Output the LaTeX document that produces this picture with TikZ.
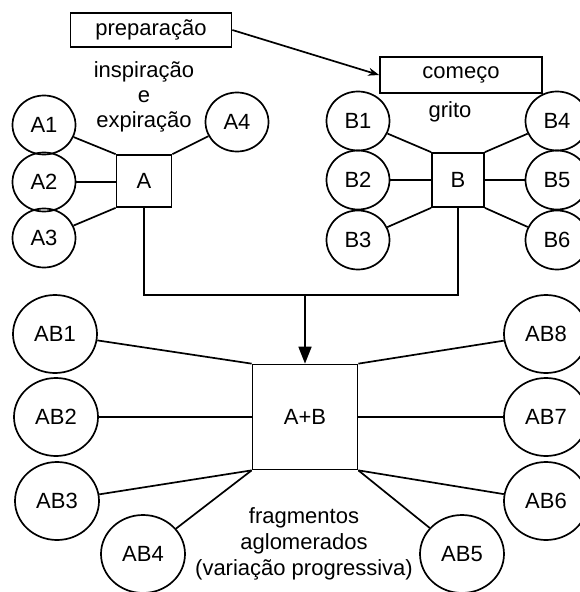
\documentclass[tikz,border=0pt]{standalone}
\usepackage{fontspec}
\setmainfont{Liberation Sans}
\usetikzlibrary{shapes.geometric,arrows.meta}
\begin{document}
\begin{tikzpicture}[x=1pt,y=-1pt,
  line width=1.7pt,
  every node/.style={font=\fontsize{22}{25}\selectfont},
  sm/.style={draw,ellipse,minimum width=63pt,minimum height=59pt,inner sep=0pt},
  bg/.style={draw,ellipse,minimum width=84pt,minimum height=78pt,inner sep=0pt},
  lbl/.style={draw,rectangle,inner sep=0pt},
  txt/.style={align=center,inner sep=0pt}]
\useasboundingbox (0,0) rectangle (579,592);
% top label boxes
\node[lbl,minimum width=161pt,minimum height=34pt] (prep) at (151,30) {preparação};
\node[lbl,minimum width=162pt,minimum height=36pt] (comeco) at (461,75) {começo};
\draw[-{Stealth[length=11pt,width=8pt]}] (prep.east) -- (comeco.west);
\node[txt] (insp) at (144,97) {inspiração\\e\\expiração};
\node[txt] (grito) at (450,112) {grito};
% A group
\node[lbl,minimum width=55pt,minimum height=52pt] (A) at (144,181) {A};
\node[sm] (A1) at (44,125) {A1};
\node[sm] (A2) at (44,182) {A2};
\node[sm] (A3) at (44,238) {A3};
\node[sm] (A4) at (237,122) {A4};
\draw (A1) -- (A.north west);
\draw (A2) -- (A2 -| A.west);
\draw (A3) -- (A.south west);
\draw (A4) -- (A.north east);
% B group
\node[lbl,minimum width=52pt,minimum height=54pt] (B) at (458,180) {B};
\node[sm] (B1) at (358,121) {B1};
\node[sm] (B2) at (358,180) {B2};
\node[sm] (B3) at (358,240) {B3};
\node[sm] (B4) at (557,121) {B4};
\node[sm] (B5) at (557,180) {B5};
\node[sm] (B6) at (557,240) {B6};
\draw (B1) -- (B.north west);
\draw (B2) -- (B2 -| B.west);
\draw (B3) -- (B.south west);
\draw (B4) -- (B.north east);
\draw (B5) -- (B5 -| B.east);
\draw (B6) -- (B.south east);
% merge
\node[lbl,minimum width=105pt,minimum height=105pt] (AB) at (305,417) {A+B};
\coordinate (mid) at (305,295);
\draw (A.south) |- (mid) -| (B.south);
\draw[-{Triangle[length=17pt,width=13pt]}] (mid) -- (AB.north);
\node[bg] (AB1) at (55,334) {AB1};
\node[bg] (AB2) at (56,417) {AB2};
\node[bg] (AB3) at (57,501) {AB3};
\node[bg] (AB4) at (143,554) {AB4};
\node[bg] (AB5) at (462,554) {AB5};
\node[bg] (AB6) at (546,501) {AB6};
\node[bg] (AB7) at (546,417) {AB7};
\node[bg] (AB8) at (546,334) {AB8};
\draw (AB1) -- (AB.north west);
\draw (AB2) -- (AB2 -| AB.west);
\draw (AB3) -- (AB.south west);
\draw (AB4) -- (AB.south west);
\draw (AB5) -- (AB.south east);
\draw (AB6) -- (AB.south east);
\draw (AB7) -- (AB7 -| AB.east);
\draw (AB8) -- (AB.north east);
\node[txt,font=\fontsize{22}{26}\selectfont] (frag) at (304,544) {fragmentos\\aglomerados\\(variação progressiva)};
\end{tikzpicture}
\end{document}
